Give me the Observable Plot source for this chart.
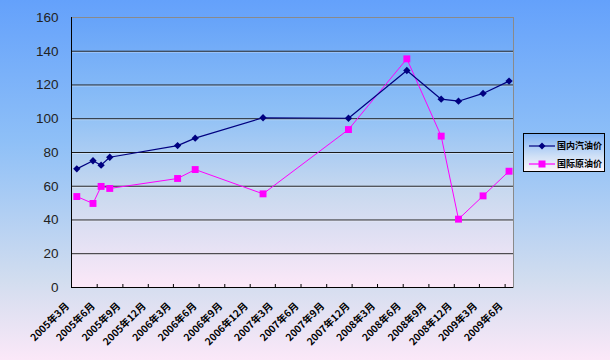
<!DOCTYPE html>
<html>
<head>
<meta charset="utf-8">
<script src="https://cdn.jsdelivr.net/npm/d3@7"></script>
<script src="https://cdn.jsdelivr.net/npm/@observablehq/plot@0.6"></script>
<style>
  html, body { margin: 0; padding: 0; }
  #wrap {
    position: relative; width: 610px; height: 360px; overflow: hidden;
    background: linear-gradient(to bottom, #64a1fb 0%, #8fc0f7 40%, #d2ddef 78%, #fbe8f8 100%);
    font-family: "Liberation Sans", Arial, sans-serif;
  }
  #wrap > svg { position: absolute; left: 0; top: 0; background: transparent; }
  #legend {
    position: absolute; left: 523px; top: 133px; width: 80px; height: 37px;
    border: 1px solid #000;
    background: linear-gradient(to bottom, #7fb3f6 0%, #cfe0f6 60%, #fbf4fb 100%);
    font-family: "Noto Sans CJK SC", sans-serif; font-weight: bold; font-size: 9px; color: #000;
  }
  .lg-row { position: absolute; left: 5px; height: 12px; display: flex; align-items: center; white-space: nowrap; }
  .lg-row svg { display: block; flex: none; }
  .lg-row span { margin-left: 1px; line-height: 12px; }
</style>
</head>
<body>
<div id="wrap"></div>
<script>
// ---- data ----
const dates = ["2005-03-20","2005-05-17","2005-06-15","2005-07-16","2006-03-16","2006-05-18",
               "2007-01-16","2007-11-18","2008-06-14","2008-10-15","2008-12-16","2009-03-14","2009-06-15"];
const domestic = [70.3, 75.1, 72.5, 77.2, 84.1, 88.5, 100.6, 100.3, 128.6, 111.6, 110.4, 115.0, 122.3];
const international = [53.9, 49.8, 59.9, 58.7, 64.6, 69.9, 55.5, 93.6, 135.5, 89.7, 40.5, 54.3, 68.9];
const seriesNames = ["国内汽油价", "国际原油价"];
const tickDates = ["2005-03-01","2005-06-01","2005-09-01","2005-12-01","2006-03-01","2006-06-01",
                   "2006-09-01","2006-12-01","2007-03-01","2007-06-01","2007-09-01","2007-12-01",
                   "2008-03-01","2008-06-01","2008-09-01","2008-12-01","2009-03-01","2009-06-01"];
const tickLabels = ["2005年3月","2005年6月","2005年9月","2005年12月","2006年3月","2006年6月",
                    "2006年9月","2006年12月","2007年3月","2007年6月","2007年9月","2007年12月",
                    "2008年3月","2008年6月","2008年9月","2008年12月","2009年3月","2009年6月"];
const yTicks = [0, 20, 40, 60, 80, 100, 120, 140, 160];
const xDomain = ["2005-03-01", "2009-07-01"];

// ---- build tables ----
const dom = dates.map((d, i) => ({date: new Date(d), v: domestic[i]}));
const intl = dates.map((d, i) => ({date: new Date(d), v: international[i]}));
const ticks = tickDates.map((d, i) => ({date: new Date(d), label: tickLabels[i]}));
const colors = ["#000080", "#ff00ff"];

const W = 610, H = 360, mL = 71, mT = 17, mR = 97, mB = 73;

const chart = Plot.plot({
  width: W, height: H,
  marginLeft: mL, marginTop: mT, marginRight: mR, marginBottom: mB,
  style: {background: "transparent", overflow: "visible"},
  x: {type: "utc", domain: xDomain.map(d => new Date(d)), axis: null},
  y: {domain: [0, 160]},
  marks: [
    Plot.frame({fill: "#fff", stroke: "#8a8a8a"}),
    Plot.ruleY(yTicks.filter(t => t > 0 && t < 160), {stroke: "#1a1a1a", strokeWidth: 1}),
    Plot.ruleY(yTicks.filter(t => t > 0 && t < 160), {stroke: "#ffffff", strokeOpacity: 0.35, dy: 1}),
    Plot.ruleY([0], {stroke: "#000"}),
    Plot.ruleX([new Date(xDomain[0])], {stroke: "#000"}),
    Plot.tickX(ticks.slice(1), {x: "date", stroke: "#000", insetTop: H - mT - mB - 3}),
    Plot.axisY(yTicks, {tickSize: 0, tickPadding: 13, fontSize: 13.5, fill: "#222", label: null,
      fontFamily: "'Liberation Sans', Arial, sans-serif"}),
    Plot.text(ticks, {x: "date", text: "label", frameAnchor: "bottom", rotate: -45,
      textAnchor: "end", lineAnchor: "middle", dx: -4, dy: 17, fontSize: 10, fontWeight: "bold",
      fill: "#000", fontFamily: "'Noto Sans CJK SC', sans-serif"}),
    Plot.line(intl, {x: "date", y: "v", stroke: colors[1], strokeWidth: 1}),
    Plot.line(dom, {x: "date", y: "v", stroke: colors[0], strokeWidth: 1.2}),
    Plot.dot(intl, {x: "date", y: "v", symbol: "square", r: 3.9, fill: colors[1], stroke: "none"}),
    Plot.dot(dom, {x: "date", y: "v", symbol: "diamond2", r: 3.3, fill: colors[0], stroke: "none"})
  ]
});

// plot-area gradient
const ns = "http://www.w3.org/2000/svg";
const defs = document.createElementNS(ns, "defs");
defs.innerHTML = `<linearGradient id="plotGrad" x1="0" y1="0" x2="0" y2="1">
  <stop offset="0" stop-color="#66a3f9"/>
  <stop offset="0.35" stop-color="#8ec0f6"/>
  <stop offset="0.65" stop-color="#c9d9ef"/>
  <stop offset="1" stop-color="#fce8f8"/>
</linearGradient>`;
chart.insertBefore(defs, chart.firstChild);
let fr = chart.querySelector('[aria-label="frame"]');
if (fr && fr.tagName.toLowerCase() === "g") fr = fr.querySelector("rect");
if (fr) fr.setAttribute("fill", "url(#plotGrad)");

const wrap = document.getElementById("wrap");
wrap.appendChild(chart);

// legend
const legend = document.createElement("div");
legend.id = "legend";
seriesNames.forEach((name, i) => {
  const row = document.createElement("div");
  row.className = "lg-row";
  row.style.top = (i === 0 ? 6 : 24) + "px";
  const mark = i === 0
    ? `<path d="M13,2.5 L16.5,6 L13,9.5 L9.5,6 Z" fill="${colors[0]}"/>`
    : `<rect x="9.5" y="2.5" width="7" height="7" fill="${colors[1]}"/>`;
  row.innerHTML = `<svg width="27" height="12"><line x1="0" x2="26" y1="6" y2="6" stroke="${colors[i]}" stroke-width="1.2"/>${mark}</svg><span>${name}</span>`;
  legend.appendChild(row);
});
wrap.appendChild(legend);
</script>
</body>
</html>
